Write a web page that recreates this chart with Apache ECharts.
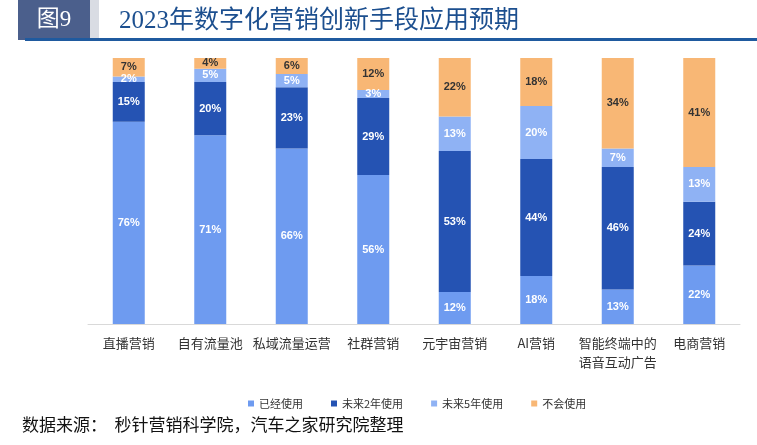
<!DOCTYPE html>
<html>
<head>
<meta charset="utf-8">
<script src="https://cdn.jsdelivr.net/npm/echarts@6/dist/echarts.min.js"></script>
<style>
html, body { margin: 0; padding: 0; background: #fff; }
#chart { width: 757px; height: 445px; }
</style>
</head>
<body>
<div id="chart"></div>
<script>
var categories = ['直播营销', '自有流量池', '私域流量运营', '社群营销', '元宇宙营销', 'AI营销', '智能终端中的\n语音互动广告', '电商营销'];
var seriesNames = ['已经使用', '未来2年使用', '未来5年使用', '不会使用'];
var usedNow = [76, 71, 66, 56, 12, 18, 13, 22];
var in2Years = [15, 20, 23, 29, 53, 44, 46, 24];
var in5Years = [2, 5, 5, 3, 13, 20, 7, 13];
var never = [7, 4, 6, 12, 22, 18, 34, 41];

var colors = ['#6e9bf0', '#2553b3', '#8fb2f4', '#f8b775'];
var labelColors = ['#fff', '#fff', '#fff', '#333'];
var cjk = "'Noto Sans CJK SC', sans-serif";
var serif = "'Liberation Serif', 'DejaVu Serif', 'Noto Sans CJK SC', serif";

var myChart = echarts.init(document.getElementById('chart'));

function makeSeries(idx, data) {
    return {
        name: seriesNames[idx],
        type: 'bar',
        stack: 'all',
        barWidth: 32,
        animation: false,
        itemStyle: { color: colors[idx] },
        label: {
            show: true,
            position: 'inside',
            formatter: '{c}%',
            color: labelColors[idx],
            fontSize: 11,
            fontWeight: 'bold',
            fontFamily: 'Arial, sans-serif'
        },
        data: data
    };
}

var option = {
    backgroundColor: '#fff',
    animation: false,
    graphic: [
        // 左上角 "图9" 色块
        { type: 'rect', shape: { x: 18, y: 0, width: 72, height: 40 }, style: { fill: '#4b5f8c' } },
        { type: 'rect', shape: { x: 90, y: 0, width: 9, height: 40 }, style: { fill: '#d9dce3' } },
        { type: 'text', style: { x: 54, y: 20, text: '图9', fill: '#fff', font: '23px ' + serif, textAlign: 'center', textVerticalAlign: 'middle' } },
        { type: 'text', style: { x: 119, y: 21, text: '2023年数字化营销创新手段应用预期', fill: '#1c4f8f', font: '25px ' + serif, textVerticalAlign: 'middle' } },
        // 标题下方蓝线
        { type: 'rect', shape: { x: 25, y: 38, width: 732, height: 3 }, style: { fill: '#1f5a9f' } },
        { type: 'text', style: { x: 22, y: 425, text: '数据来源：  秒针营销科学院，汽车之家研究院整理', fill: '#111', font: '17px ' + cjk, textVerticalAlign: 'middle' } }
    ],
    legend: {
        top: 393,
        left: 243,
        itemWidth: 6,
        itemHeight: 6,
        itemGap: 28,
        icon: 'rect',
        textStyle: { fontSize: 11, color: '#333', fontFamily: cjk },
        data: seriesNames
    },
    grid: {
        left: 88,
        right: 17,
        top: 58,
        bottom: 121
    },
    xAxis: {
        type: 'category',
        data: categories,
        axisLine: { lineStyle: { color: '#d9d9d9', width: 1 } },
        axisTick: { show: false },
        axisLabel: {
            interval: 0,
            margin: 10,
            color: '#333',
            fontSize: 13,
            lineHeight: 19,
            verticalAlign: 'top',
            fontFamily: cjk
        }
    },
    yAxis: {
        type: 'value',
        min: 0,
        max: 100,
        show: false,
        splitLine: { show: false }
    },
    series: [
        makeSeries(0, usedNow),
        makeSeries(1, in2Years),
        makeSeries(2, in5Years),
        makeSeries(3, never)
    ]
};

myChart.setOption(option);
</script>
</body>
</html>
